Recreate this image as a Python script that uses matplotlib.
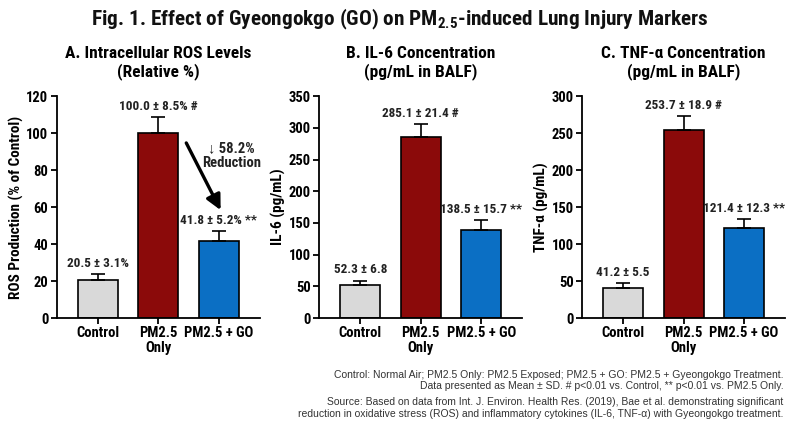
import matplotlib
matplotlib.use("Agg")
import matplotlib.pyplot as plt

plt.rcParams['font.family'] = ['Roboto Condensed', 'Liberation Sans', 'DejaVu Sans']
plt.rcParams['mathtext.fontset'] = 'custom'
plt.rcParams['mathtext.rm'] = 'Roboto Condensed'
plt.rcParams['mathtext.bf'] = 'Roboto Condensed:bold'

groups = ["Control", "PM2.5\nOnly", "PM2.5 + GO"]
ros_mean = [20.5, 100.0, 41.8]
ros_sd = [3.1, 8.5, 5.2]
ros_labels = ["20.5 ± 3.1%", "100.0 ± 8.5% #", "41.8 ± 5.2% **"]
il6_mean = [52.3, 285.1, 138.5]
il6_sd = [6.8, 21.4, 15.7]
il6_labels = ["52.3 ± 6.8", "285.1 ± 21.4 #", "138.5 ± 15.7 **"]
tnf_mean = [41.2, 253.7, 121.4]
tnf_sd = [5.5, 18.9, 12.3]
tnf_labels = ["41.2 ± 5.5", "253.7 ± 18.9 #", "121.4 ± 12.3 **"]
colors = ["#d9d9d9", "#8b0a0a", "#0b6fc4"]

fig = plt.figure(figsize=(8, 4.36), dpi=100)
fig.patch.set_facecolor("white")

panels = [
    dict(left=0.071, mean=ros_mean, sd=ros_sd, labels=ros_labels, ymax=120, step=20,
         title="A. Intracellular ROS Levels\n(Relative %)", ylabel="ROS Production (% of Control)"),
    dict(left=0.399, mean=il6_mean, sd=il6_sd, labels=il6_labels, ymax=350, step=50,
         title="B. IL-6 Concentration\n(pg/mL in BALF)", ylabel="IL-6 (pg/mL)"),
    dict(left=0.7275, mean=tnf_mean, sd=tnf_sd, labels=tnf_labels, ymax=300, step=50,
         title="C. TNF-α Concentration\n(pg/mL in BALF)", ylabel="TNF-α (pg/mL)"),
]

axes = []
for p in panels:
    ax = fig.add_axes([p["left"], 0.2706, 0.254, 0.509])
    axes.append(ax)
    x = list(range(len(groups)))
    ax.bar(x, p["mean"], width=0.66, color=colors, edgecolor="black", linewidth=1.2, zorder=2)
    ax.errorbar(x, p["mean"], yerr=[[0]*3, p["sd"]], fmt="none", ecolor="black",
                elinewidth=1.2, capsize=5, capthick=1.2, zorder=3)
    for xi, m, s, lab in zip(x, p["mean"], p["sd"], p["labels"]):
        ax.annotate(lab, (xi, m + s), xytext=(0, 3), textcoords="offset points",
                    ha="center", va="bottom", fontsize=9.5, fontweight="bold", color="#222222")
    ax.set_xlim(-0.68, 2.68)
    ax.set_ylim(0, p["ymax"])
    ax.set_yticks(range(0, p["ymax"] + 1, p["step"]))
    ax.set_xticks(x)
    ax.set_xticklabels(groups, fontsize=10.5, fontweight="bold", linespacing=1.05)
    for t in ax.get_yticklabels():
        t.set_fontweight("bold")
        t.set_fontsize(10.5)
    ax.spines["top"].set_visible(False)
    ax.spines["right"].set_visible(False)
    ax.spines["left"].set_linewidth(1.3)
    ax.spines["bottom"].set_linewidth(1.3)
    ax.tick_params(direction="out", length=4, width=1.3, pad=2)
    ax.set_ylabel(p["ylabel"], fontsize=11, fontweight="bold", labelpad=2)
    ax.set_title(p["title"], fontsize=12.5, fontweight="bold", pad=14, linespacing=1.15)

# Reduction arrow in panel A
axA = axes[0]
axA.annotate("", xy=(2.05, 57), xytext=(1.44, 96),
             arrowprops=dict(arrowstyle="-|>,head_length=0.9,head_width=0.45", color="black", lw=2.4))
axA.text(2.21, 88, "↓ 58.2%\nReduction", ha="center", va="center", fontsize=10.5,
         fontweight="bold", color="#222222", linespacing=1.1)

fig.text(0.5, 0.955, "Fig. 1. Effect of Gyeongokgo (GO) on PM$_{\\mathbf{2.5}}$-induced Lung Injury Markers",
         ha="center", va="center", fontsize=15.3, fontweight="bold", color="#111111")

foot = ("Control: Normal Air; PM2.5 Only: PM2.5 Exposed; PM2.5 + GO: PM2.5 + Gyeongokgo Treatment.\n"
        "Data presented as Mean ± SD. # p<0.01 vs. Control, ** p<0.01 vs. PM2.5 Only.")
src = ("Source: Based on data from Int. J. Environ. Health Res. (2019), Bae et al. demonstrating significant\n"
       "reduction in oxidative stress (ROS) and inflammatory cytokines (IL-6, TNF-α) with Gyeongokgo treatment.")
fig.text(0.979, 0.128, foot, ha="right", va="center", fontsize=7.5, color="#333333",
         family=["Liberation Sans", "DejaVu Sans"], linespacing=1.15)
fig.text(0.979, 0.064, src, ha="right", va="center", fontsize=7.5, color="#333333",
         family=["Liberation Sans", "DejaVu Sans"], linespacing=1.15)

fig.savefig("out.png", dpi=100, facecolor="white")
